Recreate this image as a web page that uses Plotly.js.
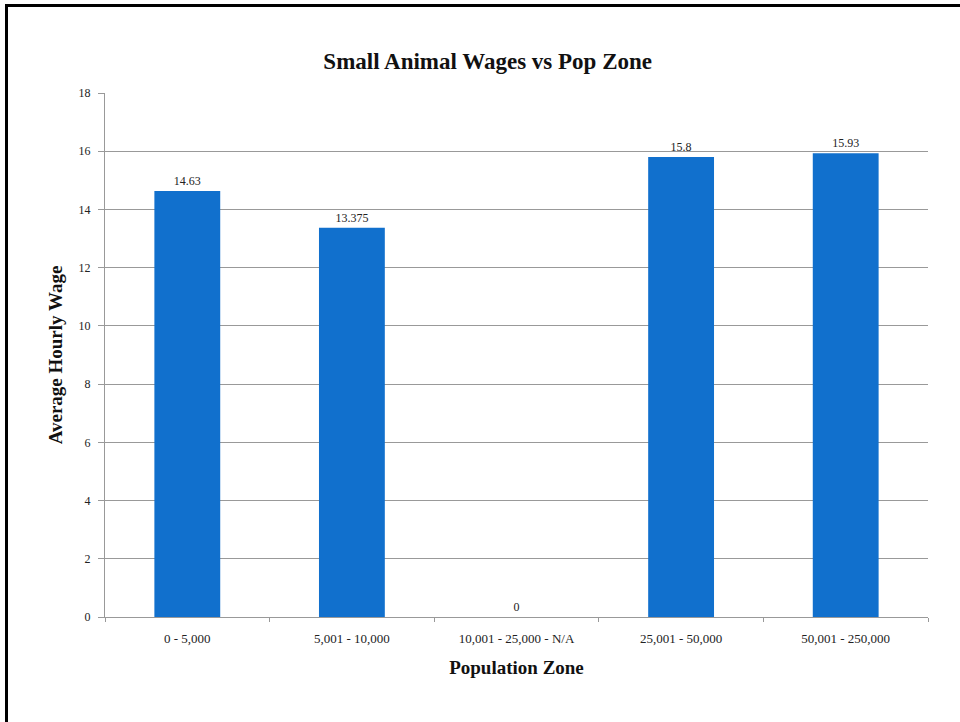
<!DOCTYPE html>
<html>
<head>
<meta charset="utf-8">
<script src="https://cdn.plot.ly/plotly-3.0.1.min.js"></script>
<style>
  html, body { margin: 0; padding: 0; background: #fff; }
  #wrap { position: relative; width: 960px; height: 722px; overflow: hidden; }
  #chart { position: absolute; left: 0; top: 0; width: 960px; height: 722px; }
  .edge { position: absolute; background: #000; pointer-events: none; }
</style>
</head>
<body>
<div id="wrap">
  <div id="chart"></div>
  <div class="edge" style="left:5px; top:4px; width:955px; height:3px;"></div>
  <div class="edge" style="left:5px; top:4px; width:3px; height:718px;"></div>
</div>
<script>
const categories = ["0 - 5,000", "5,001 - 10,000", "10,001 - 25,000 - N/A", "25,001 - 50,000", "50,001 - 250,000"];
const wages = [14.63, 13.375, 0, 15.8, 15.93];
const wageLabels = ["14.63", "13.375", "0", "15.8", "15.93"];
const yTicks = [0, 2, 4, 6, 8, 10, 12, 14, 16, 18];

const serif = "Liberation Serif, DejaVu Serif, serif";

const trace = {
  type: "bar",
  x: categories,
  y: wages,
  text: wageLabels,
  texttemplate: "%{text}",
  textposition: "outside",
  cliponaxis: false,
  textfont: { family: serif, size: 12, color: "#222" },
  marker: { color: "#1170cd", line: { width: 0 } },
  hoverinfo: "x+y"
};

const layout = {
  width: 960,
  height: 722,
  paper_bgcolor: "#ffffff",
  plot_bgcolor: "#ffffff",
  margin: { l: 105, r: 32, t: 93, b: 105 },
  bargap: 0.6,
  showlegend: false,
  title: {
    text: "<b>Small Animal Wages vs Pop Zone</b>",
    font: { family: serif, size: 23, color: "#111" },
    x: 0.508, xanchor: "center",
    y: 0.915, yanchor: "middle"
  },
  xaxis: {
    type: "category",
    showline: true,
    linecolor: "#999999",
    linewidth: 1,
    ticks: "outside",
    tickson: "boundaries",
    ticklen: 4,
    tickcolor: "#999999",
    ticklabelstandoff: 9,
    tickfont: { family: serif, size: 13, color: "#222" },
    showgrid: false,
    title: {
      text: "<b>Population Zone</b>",
      font: { family: serif, size: 19, color: "#111" },
      standoff: 16
    }
  },
  yaxis: {
    range: [0, 18],
    tickvals: yTicks,
    ticktext: yTicks.map(String),
    showline: true,
    linecolor: "#999999",
    linewidth: 1,
    ticks: "outside",
    ticklen: 6,
    tickcolor: "#999999",
    ticklabelstandoff: 5,
    tickfont: { family: serif, size: 12, color: "#222" },
    showgrid: true,
    gridcolor: "#999999",
    gridwidth: 1,
    zeroline: false,
    title: {
      text: "<b>Average Hourly Wage</b>",
      font: { family: serif, size: 19, color: "#111" },
      standoff: 10
    }
  }
};

Plotly.newPlot("chart", [trace], layout, { displayModeBar: false, staticPlot: true });
</script>
</body>
</html>
